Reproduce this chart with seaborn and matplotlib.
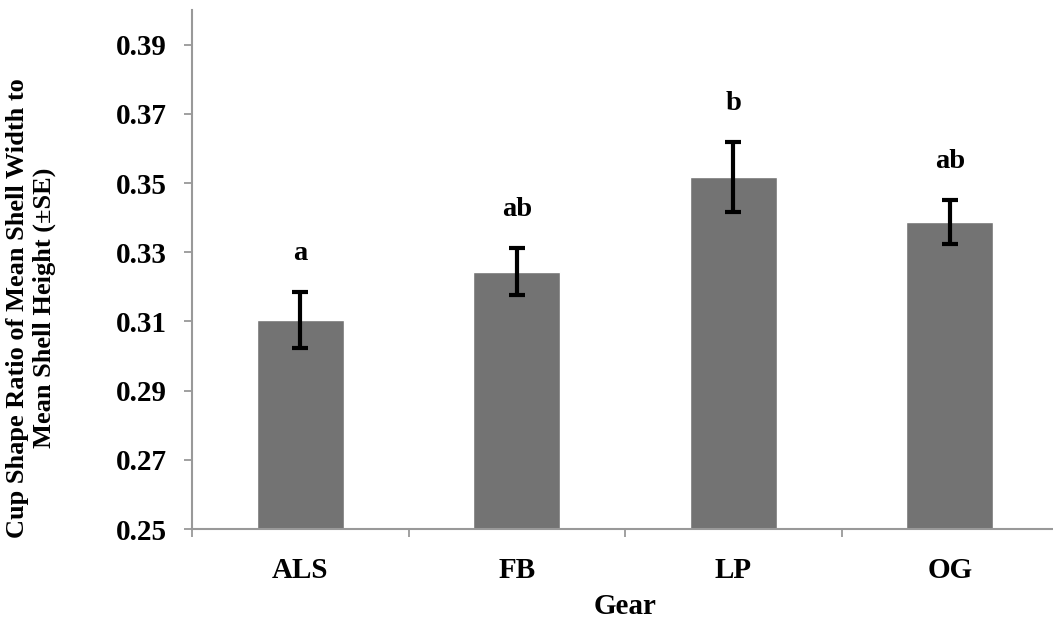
import matplotlib
matplotlib.use("Agg")
import matplotlib.pyplot as plt
import seaborn as sns
import pandas as pd
import numpy as np
from matplotlib.ticker import FixedLocator

# Mean cup shape ratio per gear type, with standard errors and significance letters
gears = ["ALS", "FB", "LP", "OG"]
ratio_mean = [0.3104, 0.3244, 0.3518, 0.3388]
ratio_se = [0.0082, 0.0068, 0.0101, 0.0064]
sig_letters = ["a", "ab", "b", "ab"]
y_ticks = [0.25, 0.27, 0.29, 0.31, 0.33, 0.35, 0.37, 0.39]

df = pd.DataFrame({"Gear": gears, "Ratio": ratio_mean, "SE": ratio_se})

sns.set_theme(style="white")
plt.rcParams["font.family"] = ["Liberation Serif", "DejaVu Serif"]
plt.rcParams["font.weight"] = "bold"
plt.rcParams["text.color"] = "black"
plt.rcParams["xtick.labelcolor"] = "black"
plt.rcParams["ytick.labelcolor"] = "black"

fig = plt.figure(figsize=(10.53, 6.2), dpi=100)
ax = fig.add_axes([192 / 1053, 91 / 620, 866 / 1053, 519 / 620])

sns.barplot(data=df, x="Gear", y="Ratio", color="#737373", saturation=1,
            width=0.4, errorbar=None, ax=ax, zorder=2)

xpos = np.arange(len(gears))
ax.errorbar(xpos, df["Ratio"], yerr=df["SE"], fmt="none", ecolor="black",
            elinewidth=3, capsize=6, capthick=3, zorder=3)

for x, m, s, lab in zip(xpos, ratio_mean, ratio_se, sig_letters):
    ax.annotate(lab, xy=(x, m + s), xytext=(0, 23), textcoords="offset points",
                ha="center", va="baseline", fontsize=20.5, fontweight="bold",
                color="black")

ax.set_xlim(-0.5, len(gears) - 0.5)
ax.set_ylim(0.25, 0.40)
ax.yaxis.set_major_locator(FixedLocator(y_ticks))
ax.set_yticklabels([f"{t:.2f}" for t in y_ticks])

spine_color = "#999999"
for side in ["top", "right"]:
    ax.spines[side].set_visible(False)
for side in ["left", "bottom"]:
    ax.spines[side].set_color(spine_color)
    ax.spines[side].set_linewidth(1.5)

ax.tick_params(axis="y", which="major", left=True, length=6, width=1.3,
               color=spine_color, pad=12, labelsize=21, labelcolor="black")
ax.tick_params(axis="x", which="major", bottom=False, length=0, pad=20,
               labelsize=21, labelcolor="black")
ax.xaxis.set_minor_locator(FixedLocator(np.arange(-0.5, len(gears), 1.0)))
ax.tick_params(axis="x", which="minor", bottom=True, length=6, width=1.3,
               color=spine_color)
for lbl in ax.get_xticklabels() + ax.get_yticklabels():
    lbl.set_fontweight("bold")

ax.set_xlabel("")
ax.set_ylabel("")
fig.text(625 / 1053, 1 - 607 / 620, "Gear", ha="center", va="center",
         fontsize=21, fontweight="bold", color="black")
fig.text(31 / 1053, 1 - 308 / 620,
         "Cup Shape Ratio of Mean Shell Width to\nMean Shell Height (\u00b1SE)",
         ha="center", va="center", rotation=90, fontsize=19, fontweight="bold",
         multialignment="center", linespacing=1.2, color="black")

fig.savefig("out.png", dpi=100, facecolor="white")
